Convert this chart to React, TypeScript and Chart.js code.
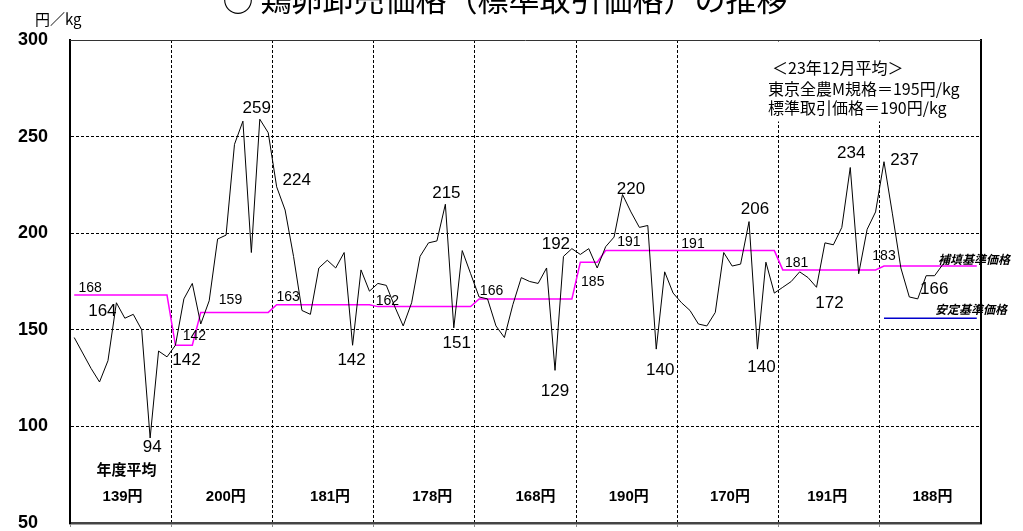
import React, { useEffect, useRef } from "react";
import { Chart, registerables } from "chart.js";

Chart.register(...registerables);

// ---- categories ----
const FISCAL_YEARS = ["15年度", "16年度", "17年度", "18年度", "19年度", "20年度", "21年度", "22年度", "23年度"];
const MONTHS = ["4月", "5月", "6月", "7月", "8月", "9月", "10月", "11月", "12月", "1月", "2月", "3月"];

// ---- 標準取引価格 (monthly, 円/kg) ----
const PRICE_FY15 = [146, 138, 130, 123, 134, 164, 156, 158, 150, 94, 139, 136];
const PRICE_FY16 = [142, 166, 174, 153, 165, 197, 199, 246, 258, 190, 259, 252];
const PRICE_FY17 = [224, 212, 188, 160, 158, 182, 186, 182, 190, 142, 181, 170];
const PRICE_FY18 = [174, 173, 162, 152, 164, 188, 195, 196, 215, 151, 191, 179];
const PRICE_FY19 = [167, 166, 152, 146, 163, 177, 175, 174, 182, 129, 188, 192];
const PRICE_FY20 = [189, 192, 182, 193, 198, 220, 211, 203, 204, 140, 180, 169];
const PRICE_FY21 = [164, 160, 153, 152, 159, 190, 183, 184, 206, 140, 185, 169];
const PRICE_FY22 = [172, 175, 180, 177, 172, 195, 194, 203, 234, 179, 202, 211];
const PRICE_FY23 = [237, 210, 182, 167, 166, 178, 178, 184];

// ---- 補填基準価格 ----
const SUPPORT_FY15 = [168, 168, 168, 168, 168, 168, 168, 168, 168, 168, 168, 168];
const SUPPORT_FY16 = [142, 142, 142, 159, 159, 159, 159, 159, 159, 159, 159, 159];
const SUPPORT_FY17 = [163, 163, 163, 163, 163, 163, 163, 163, 163, 163, 163, 163];
const SUPPORT_FY18 = [162, 162, 162, 162, 162, 162, 162, 162, 162, 162, 162, 162];
const SUPPORT_FY19 = [166, 166, 166, 166, 166, 166, 166, 166, 166, 166, 166, 166];
const SUPPORT_FY20 = [185, 185, 185, 191, 191, 191, 191, 191, 191, 191, 191, 191];
const SUPPORT_FY21 = [191, 191, 191, 191, 191, 191, 191, 191, 191, 191, 191, 191];
const SUPPORT_FY22 = [181, 181, 181, 181, 181, 181, 181, 181, 181, 181, 181, 181];
const SUPPORT_FY23 = [183, 183, 183, 183, 183, 183, 183, 183, 183, 183, 183, 183];

// ---- 安定基準価格 (FY23 only) ----
const STABLE_FY23 = [156, 156, 156, 156, 156, 156, 156, 156, 156, 156, 156, 156];

// ---- 年度平均 ----
const YEAR_AVERAGES = [139, 200, 181, 178, 168, 190, 170, 191, 188];

// ---- tick values ----
const Y_MIN = 50;
const Y_MAX = 300;
const Y_STEP = 50;

// ---- label annotations: [index, dx, dy] ----
const PRICE_LABELS: [number, number, number][] = [
  [5, -14, 9], [9, 2, 9], [12, 11, 15.5], [22, -3, -10.5], [24, 20, -6.5], [33, -1, 15.5],
  [44, 1, -10.5], [45, 3, 15.5], [57, 0, 21], [59, -16, -4], [65, 8.5, -5], [69, 4, 21],
  [80, 6, -12], [81, 4, 18], [88, 13, 16], [92, 1, -14], [96, 20.5, -1], [100, 16.5, -9.5],
];
const SUPPORT_LABELS: [number, number, number][] = [
  [2, -1, -6.5], [14, 2, -9], [19, -4, -12], [25, 3, -7.5], [37, 1, -5], [49, 4, -8],
  [61, 4, 19.5], [66, -2, -8], [73, 3, -6], [86, -3, -6.5], [96, 0, -10],
];
const AVG_DX = [2, 4, 7, 8, 10, 2, 2, -2, 2];

// build tables
const CATEGORIES: string[] = [];
FISCAL_YEARS.forEach((fy) => MONTHS.forEach((m) => CATEGORIES.push(fy + m)));
const PRICE = [
  ...PRICE_FY15, ...PRICE_FY16, ...PRICE_FY17, ...PRICE_FY18, ...PRICE_FY19,
  ...PRICE_FY20, ...PRICE_FY21, ...PRICE_FY22, ...PRICE_FY23,
];
const SUPPORT = [
  ...SUPPORT_FY15, ...SUPPORT_FY16, ...SUPPORT_FY17, ...SUPPORT_FY18, ...SUPPORT_FY19,
  ...SUPPORT_FY20, ...SUPPORT_FY21, ...SUPPORT_FY22, ...SUPPORT_FY23,
];
const STABLE: (number | null)[] = [...new Array(96).fill(null), ...STABLE_FY23];

const JP = '"Noto Sans CJK JP", "Noto Sans CJK SC", sans-serif';
const NUM = '"Liberation Sans", Arial, sans-serif';

const decorPlugin = {
  id: "decor",
  beforeDatasetsDraw(chart: any) {
    const { ctx, chartArea } = chart;
    ctx.save();
    // solid top edge of the plot area
    ctx.strokeStyle = "#333";
    ctx.lineWidth = 1;
    ctx.beginPath();
    ctx.moveTo(chartArea.left, Math.round(chartArea.top) + 0.5);
    ctx.lineTo(chartArea.right, Math.round(chartArea.top) + 0.5);
    ctx.stroke();
    // white box behind the note
    ctx.fillStyle = "#fff";
    ctx.fillRect(chartArea.right - 216, chartArea.top + 1.5, 211, 80);
    ctx.restore();
  },
  afterDatasetsDraw(chart: any) {
    const { ctx, chartArea, scales } = chart;
    const x = scales.x;
    const y = scales.y;
    ctx.save();
    ctx.fillStyle = "#000";
    ctx.textBaseline = "middle";
    ctx.textAlign = "center";

    // price labels
    ctx.font = `17px ${NUM}`;
    PRICE_LABELS.forEach(([i, dx, dy]) => {
      ctx.fillText(String(PRICE[i]), x.getPixelForValue(i) + dx, y.getPixelForValue(PRICE[i]) + dy);
    });
    // support labels
    ctx.font = `14px ${NUM}`;
    SUPPORT_LABELS.forEach(([i, dx, dy]) => {
      ctx.fillText(String(SUPPORT[i]), x.getPixelForValue(i) + dx, y.getPixelForValue(SUPPORT[i]) + dy);
    });

    // year averages
    ctx.font = `bold 15px ${NUM}, ${JP}`;
    YEAR_AVERAGES.forEach((v, k) => {
      const cx = (x.getPixelForValue(k * 12) + x.getPixelForValue(k * 12 + 11)) / 2 + AVG_DX[k];
      ctx.fillText(v + "円", cx, chartArea.bottom - 26);
    });
    ctx.font = `bold 15px ${JP}`;
    ctx.fillText("年度平均", (x.getPixelForValue(0) + x.getPixelForValue(11)) / 2 + 6, chartArea.bottom - 54);

    // series names
    ctx.font = `italic bold 12px ${JP}`;
    ctx.textAlign = "right";
    ctx.fillText("補填基準価格", chartArea.right + 29, y.getPixelForValue(SUPPORT[107]) - 7);
    ctx.fillText("安定基準価格", chartArea.right + 26, y.getPixelForValue(156) - 9);

    // note
    ctx.textAlign = "left";
    ctx.font = `16px ${JP}`;
    ctx.fillText("＜23年12月平均＞", chartArea.right - 209, chartArea.top + 28);
    ctx.fillText("東京全農M規格＝195円/kg", chartArea.right - 213, chartArea.top + 49);
    ctx.fillText("標準取引価格＝190円/kg", chartArea.right - 213, chartArea.top + 68);

    // unit
    ctx.font = `15px ${JP}`;
    ctx.fillText("円／kg", 35, 19);

    // title (cut at top as in the original)
    ctx.textAlign = "center";
    ctx.textBaseline = "alphabetic";
    ctx.font = `31px ${JP}`;
    ctx.fillText("○ 鶏卵卸売価格（標準取引価格）の推移", 505, 11);
    ctx.restore();
  },
};

export default function App() {
  const ref = useRef<HTMLCanvasElement>(null);
  useEffect(() => {
    const chart = new Chart(ref.current as HTMLCanvasElement, {
      type: "line",
      data: {
        labels: CATEGORIES,
        datasets: [
          { label: "標準取引価格", data: PRICE, borderColor: "#000", borderWidth: 1, pointRadius: 0, tension: 0 },
          { label: "補填基準価格", data: SUPPORT, borderColor: "#FF00FF", borderWidth: 1.5, pointRadius: 0, tension: 0 },
          { label: "安定基準価格", data: STABLE, borderColor: "#0000CC", borderWidth: 1.5, pointRadius: 0, tension: 0 },
        ],
      },
      options: {
        responsive: false,
        animation: false,
        events: [],
        layout: { padding: { top: 40, right: 0, bottom: 0, left: 18 } },
        plugins: { legend: { display: false }, tooltip: { enabled: false }, title: { display: false } },
        scales: {
          x: {
            type: "category",
            offset: true,
            ticks: { display: false, autoSkip: false },
            grid: {
              offset: true,
              color: (c: any) => (c.index !== undefined && c.index > 0 && c.index % 12 === 0 ? "#000" : "rgba(0,0,0,0)"),
              tickColor: (c: any) => (c.index !== undefined && c.index % 12 === 0 ? "#888" : "rgba(0,0,0,0)"),
              lineWidth: 1,
              drawTicks: true,
              tickLength: 4,
            },
            border: { display: true, color: "#444", width: 2.5, dash: [3, 2] },
            afterFit: (s: any) => {
              s.height = 8;
            },
          },
          y: {
            min: Y_MIN,
            max: Y_MAX,
            ticks: {
              stepSize: Y_STEP,
              color: "#000",
              padding: 0,
              crossAlign: "far",
              font: { family: NUM, size: 18, weight: "bold", lineHeight: 0.5 },
            },
            grid: {
              color: (c: any) =>
                c.tick && (c.tick.value === Y_MIN || c.tick.value === Y_MAX) ? "rgba(0,0,0,0)" : "#000",
              lineWidth: 1,
              drawTicks: false,
            },
            border: { display: true, color: "#000", width: 2, dash: [3, 2] },
            afterFit: (s: any) => {
              s.width = 52;
            },
          },
          y2: {
            position: "right",
            min: 0,
            max: 1,
            ticks: { display: false },
            grid: { display: false },
            border: { display: true, color: "#000", width: 2 },
            afterFit: (s: any) => {
              s.width = 42;
            },
          },
        },
      } as any,
      plugins: [decorPlugin],
    });
    return () => chart.destroy();
  }, []);
  return (
    <div style={{ position: "fixed", left: 0, top: 0, width: 1023, height: 531, background: "#fff" }}>
      <canvas ref={ref} width={1023} height={531} style={{ display: "block" }} />
    </div>
  );
}
